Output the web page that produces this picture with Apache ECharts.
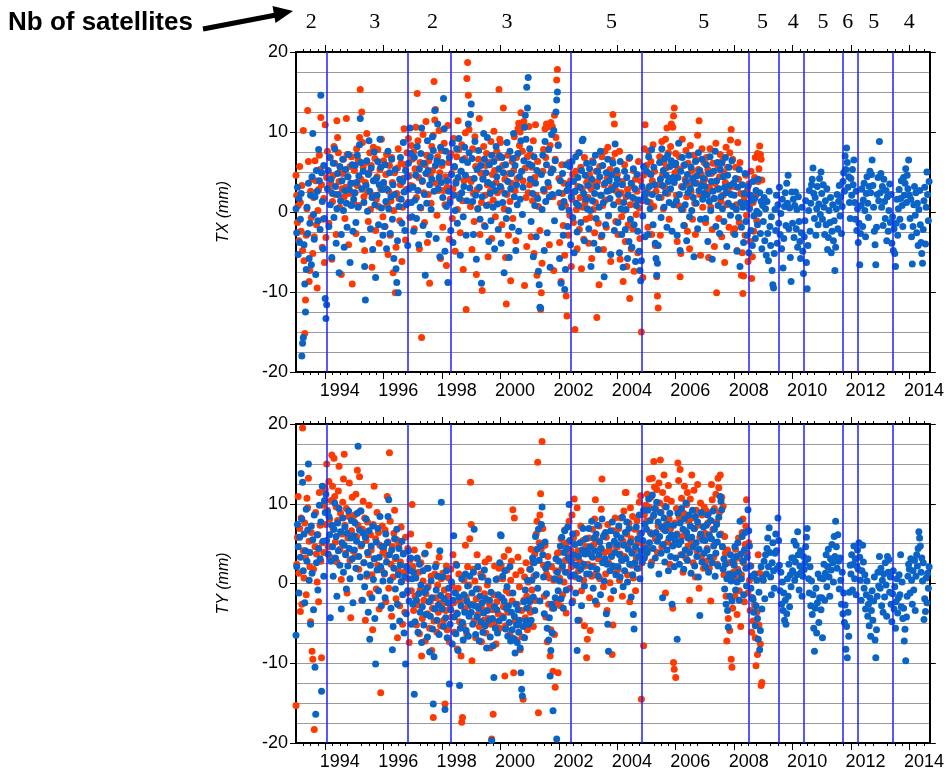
<!DOCTYPE html>
<html><head><meta charset="utf-8">
<script src="https://cdn.jsdelivr.net/npm/echarts@6/dist/echarts.min.js"></script>
<style>html,body{margin:0;padding:0;background:#fff}#c{width:947px;height:775px}</style>
</head><body><div id="c"></div>
<script>
// sampling: each row = one calendar year starting at firstYear, samples every sampleStep years
const firstYear = 1993;
const sampleStep = 0.025;
const changeDates = [1994.06, 1996.83, 1998.30, 2002.41, 2004.83, 2008.51, 2009.52, 2010.40, 2011.73, 2012.24, 2013.43];
const satCounts = ['2','3','2','3','5','5','5','4','5','6','5','4'];
const satLabelYears = [1993.52, 1995.70, 1997.67, 2000.22, 2003.80, 2006.96, 2008.97, 2010.02, 2011.04, 2011.89, 2012.78, 2014.0];
const xLabelYears = [1994, 1996, 1998, 2000, 2002, 2004, 2006, 2008, 2010, 2012, 2014];

const txRed = [
 [4.6,2.1,-1.3,0.8,-3.6,5.7,1.2,-2.4,3.3,-4.8,10.2,-6.1,-15.2,-11.0,-2.9,0.4,12.7,6.3,-8.7,-7.3,2.6,-0.7,4.1,-5.2,1.8,-3.1,6.4,3.9,-1.6,-9.5,0.2,2.8,7.1,5.3,11.8,3.4,-4.4,-0.9,1.7,-6.3],
 [10.9,-3.2,4.3,7.6,5.1,-1.4,2.7,6.8,3.5,-5.9,1.3,4.6,8.2,6.1,2.2,-2.8,11.4,9.3,7.4,3.8,0.6,5.4,-7.8,2.9,4.8,6.6,1.9,-0.8,3.1,11.7,7.2,4.4,-4.1,2.3,5.7,0.9,6.9,-9.0,3.6,1.1],
 [5.2,2.4,-2.7,7.9,3.3,6.5,0.8,9.3,15.3,4.1,12.5,8.7,5.6,1.9,-4.8,3.7,6.2,9.8,2.5,-1.2,4.9,7.4,0.3,5.8,-6.9,2.1,8.1,3.9,6.7,-2.3,1.6,4.4,7.8,0.7,-3.9,5.3,2.9,9.1,3.2,-0.6],
 [6.4,3.1,-1.8,4.7,7.2,0.9,-5.3,2.6,5.8,-2.9,1.4,6.8,3.7,-7.6,0.2,4.9,-10.1,-4.4,2.3,5.5,7.9,1.7,-1.1,3.4,6.1,-6.2,0.6,4.2,10.4,5.9,-3.5,2.8,7.4,1.2,9.2,4.5,-0.7,3.3,8.3,6.6],
 [3.2,7.5,-2.1,5.4,10.6,1.8,14.8,8.9,4.3,-4.6,6.2,0.5,-15.7,3.8,9.7,2.4,-1.3,5.9,11.3,7.1,-3.8,2.2,6.4,-8.9,4.6,1.1,8.2,5.2,9.6,16.3,11.5,12.8,3.6,-0.4,6.9,2.7,10.2,4.9,-5.8,7.7],
 [5.8,-1.9,2.7,8.6,0.9,4.4,-6.7,3.1,10.8,6.2,-3.4,1.6,7.3,4.8,-0.8,2.9,9.2,5.6,-4.9,3.8,6.9,0.3,11.4,7.8,2.2,-2.6,5.1,8.4,1.4,-7.2,3.9,6.7,9.9,-12.2,16.7,18.7,14.6,10.3,4.1,0.7],
 [3.8,-4.7,7.9,2.3,-1.2,9.4,5.7,-7.8,2.8,0.4,6.6,11.7,-2.8,4.9,1.2,-9.8,4.3,8.2,-1.7,2.1,5.8,7.3,3.4,-5.6,0.9,6.2,2.6,8.8,-3.3,4.7,1.5,10.1,5.2,-0.6,3.7,7.6,2.4,6.8,15.3,9.1],
 [8.7,2.9,-1.6,5.8,13.0,0.4,4.1,-5.7,-11.5,2.2,7.1,-2.9,4.8,1.3,-8.6,3.6,6.3,-0.8,5.2,9.4,2.7,-3.6,6.8,4.2,10.4,11.1,8.3,10.0,12.4,10.8,7.6,3.9,11.3,-9.2,5.5,1.8,-4.3,6.9,2.4,10.7],
 [3.4,7.2,-3.1,5.6,1.4,8.9,-5.2,4.3,10.9,2.1,-7.9,6.3,0.7,4.9,-2.3,-12.2,-10.1,-6.4,5.1,7.8,2.6,10.4,6.8,11.0,10.6,10.9,3.2,-4.1,8.3,11.2,5.4,10.7,1.9,-7.3,12.1,6.6,9.3,16.5,17.8,8.4],
 [4.2,-3.8,1.1,-8.7,5.9,2.3,-1.7,3.6,-5.4,0.8,-10.5,-13.0,2.7,-2.9,6.2,-0.4,3.9,-6.8,1.6,4.7,-1.3,2.5,-14.7,5.1,0.3,-4.6,3.2,7.4,-2.2,1.8,5.6,-7.1,2.9,0.6,-3.4,6.8,1.2,-0.9,3.7,4.4],
 [1.8,-3.9,4.6,-0.7,2.9,-5.8,6.4,0.3,3.5,-2.6,1.2,5.1,-13.2,3.8,-1.4,-9.1,5.7,2.1,-3.1,6.9,0.8,-4.7,3.4,7.6,1.5,-1.9,4.2,8.1,-0.5,2.7,5.3,-6.2,3.1,6.5,12.2,4.8,11.0,7.3,-1.2,2.6],
 [4.7,-2.8,1.3,7.6,-5.9,2.4,-0.6,3.8,-8.7,0.2,5.9,-3.7,1.9,-6.8,2.8,-1.6,6.7,-10.8,0.9,-4.6,3.3,-2.1,5.2,-7.4,1.6,4.1,-0.3,2.6,-5.1,6.3,0.5,-3.3,3.9,-15.0,1.4,-8.2,4.6,7.9,10.9,2.2],
 [5.8,2.7,-1.9,7.6,4.8,1.2,6.3,-2.8,3.9,8.4,0.7,5.1,-4.2,2.6,-8.1,-10.5,-12.0,3.4,6.9,-2.9,1.8,8.8,4.6,0.4,6.2,3.1,9.1,5.5,10.5,2.3,7.4,-0.9,4.2,8.2,11.0,6.1,10.6,12.0,13.0,4.9],
 [7.3,2.1,-3.7,5.4,0.8,6.9,-8.1,-5.2,3.2,9.1,0.3,5.8,-1.7,4.1,7.7,1.9,-2.4,6.1,3.4,-4.6,8.3,2.6,5.2,-0.9,4.3,7.1,1.1,-2.8,6.5,3.6,9.6,5.3,11.4,2.2,-5.4,4.7,7.9,0.6,3.8,6.2],
 [4.1,-1.3,6.8,2.4,5.3,-5.7,3.1,7.9,0.6,4.8,-2.2,6.1,1.7,-4.3,3.6,8.6,-10.1,2.9,5.7,-0.8,4.4,7.2,1.3,-3.1,6.4,2.1,4.9,-6.3,3.7,8.1,0.9,5.6,2.8,-1.9,7.4,9.0,10.3,3.3,6.6,-2.6],
 [3.2,-2.1,5.6,0.9,-4.8,8.7,4.1,-1.3,6.2,2.3,-7.9,-5.1,-10.2,-8.0,1.8,-2.9,4.6,-0.4,2.7,-6.2,3.5,0.6,-3.7,5.1,-8.3,-5.6,1.2,-2.4,4.3,6.8,2.1,-1.1,7.3,3.8,5.4,8.25,7.2,6.6,4.0]
];
const txBlue = [
 [0.4,-2.6,3.1,-5.3,1.7,-3.8,-0.9,2.3,-18.0,-16.4,-15.7,-4.1,-9.0,-12.5,-7.2,0.6,-2.7,3.6,-5.8,-1.4,2.1,-6.6,4.4,9.8,-0.3,-3.4,1.9,-7.8,5.2,2.6,-1.1,7.8,3.9,-2.2,14.6,4.9,1.3,-4.6,5.8,-0.8],
 [-10.8,-13.3,-11.6,2.9,5.2,-1.8,6.8,0.9,4.1,-5.7,2.3,6.1,-0.7,7.9,3.2,-3.9,0.4,4.8,2.2,-7.6,5.7,1.4,-2.8,3.9,6.6,0.2,-4.4,2.7,5.3,1.1,-1.9,4.4,7.2,2.8,-6.3,3.6,0.8,5.9,-2.4,1.6],
 [2.4,5.8,-1.3,3.7,7.1,0.6,4.5,8.4,11.7,6.2,2.9,-3.4,5.1,1.2,-6.8,-11.0,3.3,6.4,0.1,4.7,8.9,2.6,-2.1,5.5,1.8,-4.7,3.9,7.5,0.9,-8.2,4.2,2.1,6.3,-1.6,3.4,9.1,5.6,0.5,2.8,-2.9],
 [3.7,-1.8,5.9,1.3,-4.6,2.8,7.6,0.4,4.9,-2.7,1.9,6.6,-0.9,3.4,-5.8,2.2,5.3,-7.1,-8.8,-3.6,-10.1,0.7,4.1,6.8,1.6,-1.4,3.8,8.7,2.5,-2.3,5.2,0.9,4.4,-4.2,6.1,2.9,10.5,7.3,1.2,-0.6],
 [3.1,-2.4,6.8,1.5,4.6,-0.8,8.2,2.7,-4.1,5.4,0.6,7.3,10.5,3.9,-1.7,6.1,2.2,-7.9,4.8,1.1,8.9,5.2,-2.8,3.4,6.9,0.3,4.1,9.4,7.7,2.6,12.7,5.8,-3.3,6.4,11.0,2.9,4.3,-5.6,8.1,3.7],
 [6.2,1.8,14.2,10.4,-4.9,7.6,0.7,3.9,-8.8,2.6,6.8,1.2,-2.3,4.7,8.6,-3.8,2.1,5.7,0.2,3.6,7.9,-1.4,4.3,9.2,1.7,-5.4,5.1,2.4,6.5,-0.6,3.2,8.1,4.6,-2.9,1.4,6.2,11.0,7.4,3.0,12.2],
 [13.5,6.7,1.3,-2.8,4.2,8.8,2.1,-5.9,5.3,0.4,7.7,3.1,-0.9,5.8,-8.9,1.9,4.1,9.8,6.6,-1.8,4.9,0.8,9.3,3.7,-3.7,5.9,2.3,-1.1,7.1,3.4,0.6,6.3,-4.6,2.7,8.2,4.4,1.0,-2.2,5.4,7.0],
 [3.2,-3.9,6.8,1.2,4.9,-7.6,2.3,5.9,-0.8,8.7,3.8,0.2,-5.7,7.6,2.9,4.8,-1.9,6.7,9.8,1.9,5.8,-4.8,3.4,0.9,7.3,-2.4,4.4,1.6,8.9,5.1,-0.3,3.1,6.4,10.6,12.1,9.1,15.6,13.0,16.8,6.0],
 [7.9,4.1,-1.2,5.8,2.3,-5.6,6.9,0.8,3.6,-3.1,5.2,1.7,-7.4,-9.1,-11.9,-12.0,4.7,0.3,7.1,2.8,-4.8,8.8,1.3,5.9,-2.6,3.7,7.8,1.9,-6.9,4.9,9.7,2.2,5.3,10.2,-1.1,6.4,12.5,14.0,15.0,8.3],
 [2.4,-5.8,3.9,-8.9,0.6,4.8,-2.9,1.3,-9.7,-7.2,5.9,2.7,-1.8,3.4,0.2,5.7,-4.1,1.9,6.3,-0.7,3.8,-5.1,2.6,6.9,1.1,-2.5,4.3,0.8,7.4,3.1,-1.3,5.2,8.9,9.1,2.3,-3.6,4.6,1.6,6.1,0.4],
 [3.3,-2.1,5.4,0.2,-6.8,4.1,1.4,6.2,-3.9,2.3,7.1,-0.8,3.2,5.1,-4.7,0.6,4.4,7.6,2.1,-2.9,5.8,1.2,-8.1,3.6,-1.6,4.9,2.6,6.6,-0.4,3.9,1.7,-5.3,4.6,2.8,6.1,0.9,-2.3,8.5,3.4,5.2],
 [4.1,-1.3,2.2,-5.1,6.3,0.4,-2.8,3.4,-6.9,1.2,5.1,-2.2,0.3,4.3,-5.8,2.1,-3.7,6.8,-0.9,3.6,-4.4,1.8,5.4,-1.6,2.9,-6.2,0.8,4.7,-2.4,1.5,-4.9,-7.3,-8.6,-6.1,3.2,-0.5,5.7,1.9,-3.1,2.4],
 [5.1,1.3,-2.8,6.9,3.2,0.4,4.7,7.8,2.2,-1.6,5.6,3.4,-3.9,-5.8,-7.9,-6.4,-4.2,1.8,6.2,4.1,-0.7,7.9,3.3,5.2,0.6,6.7,2.4,4.6,-1.9,7.1,3.8,1.2,5.7,2.9,6.4,-2.4,4.3,0.9,3.7,5.9],
 [6.1,1.4,-2.9,4.3,8.6,2.2,-4.8,5.1,0.3,6.8,3.1,-1.7,5.9,0.9,3.8,-3.6,4.7,2.4,7.1,-0.6,2.9,5.6,0.2,4.1,1.8,-5.6,3.6,6.3,1.1,4.5,-2.1,7.4,2.7,5.2,-0.9,3.3,6.6,1.6,4.2,2.3],
 [3.2,-0.8,5.9,2.1,-3.7,4.8,1.3,6.9,0.2,3.8,-5.9,2.6,5.1,1.7,7.6,-1.8,3.9,6.2,0.8,2.9,-2.7,5.3,1.9,6.1,0.4,4.4,-1.2,3.1,6.8,2.4,-4.3,4.6,1.1,5.6,3.3,-0.4,2.2,6.4,0.7,3.6],
 [2.1,-2.8,4.2,0.3,-4.9,3.1,-0.7,5.3,-6.8,1.2,-1.9,3.4,0.6,-3.8,2.3,4.8,-1.2,1.1,-2.9,3.2,-5.1,0.4,2.1,-2.3,1.4,-4.2,3.8,-0.5,1.7,-3.3,2.7,0.1,-1.6,4.1,-0.2,2.4,-2.7,1.3,-4.6,0.8],
 [-1.2,1.8,-3.6,0.4,-5.4,1.3,-2.7,-6.1,2.6,-1.8,-4.2,-0.6,-7.3,-9.1,-9.5,-5.2,0.3,-2.3,2.1,-3.9,0.9,-1.4,3.1,-2.8,-0.2,-4.6,1.6,-7.0,-3.3,0.7,2.4,-1.7,3.6,1.1,4.6,-2.1,0.5,-5.7,-8.7,2.5],
 [-1.4,1.6,-3.2,0.8,2.5,-2.1,0.3,-4.4,1.9,-1.2,-3.7,-5.8,-2.6,0.6,-4.9,-7.7,-3.1,-1.1,1.4,-6.3,-9.6,-4.2,0.2,2.7,-2.4,1.1,3.4,4.1,5.5,2.3,-0.8,1.8,-2.9,0.4,3.2,-1.6,1.0,4.2,-0.3,5.0],
 [2.3,-0.9,3.4,0.6,-2.8,1.4,-1.6,2.9,-4.7,-3.2,0.2,-1.3,1.8,-5.1,-2.4,0.9,-3.6,-1.1,-7.3,-4.4,0.4,2.2,-2.1,1.3,3.3,-0.5,1.9,-2.7,0.7,3.8,4.9,2.6,7.0,5.3,8.0,6.2,3.1,4.4,1.2,-0.8],
 [4.2,2.1,5.3,3.4,6.5,1.2,-0.9,2.6,-2.3,0.4,-3.8,-1.4,-6.6,-2.7,0.8,2.9,-1.8,1.5,3.6,0.2,-3.1,2.3,4.4,1.1,-0.7,3.2,5.1,2.4,4.7,6.5,3.3,0.6,-2.4,-4.1,-6.6,-1.9,2.2,4.3,1.4,8.8],
 [2.4,4.8,0.6,3.2,-1.7,4.1,1.3,-0.8,2.7,-3.6,1.9,-2.4,0.2,3.5,-1.3,2.2,-3.9,-0.6,-4.8,-2.1,-5.2,-6.8,-1.4,1.6,-2.9,0.4,2.8,-0.9,1.7,3.9,0.8,-1.8,4.3,2.1,3.6,5.4,1.2,4.6,2.9,6.5],
 [2.1,-0.8,1.6,-3.1,-6.5,-1.8,0.9,3.2,-0.4,2.4,-2.6,1.1,-4.2,0.3,2.7,-1.6,-3.8,-5.2,-6.4,-2.2,1.4,3.1,-4.0,0.6,5.0,2.2,-1.1,3.8]
];
const tyRed = [
 [-15.3,2.4,5.8,10.9,1.3,6.9,-3.5,8.2,-2.6,19.5,4.1,0.7,7.6,3.2,-1.4,10.7,9.5,13.2,5.3,2.1,-4.8,6.4,-8.5,-9.5,1.8,-18.3,4.6,8.9,3.7,0.2,6.1,-2.3,11.4,7.3,2.8,-9.3,5.1,9.8,3.9,12.1],
 [11.8,7.4,15.0,9.2,4.6,12.8,8.1,3.3,10.4,16.1,12.2,6.8,15.7,10.9,5.2,9.6,2.7,7.9,11.6,14.7,4.3,8.8,0.5,6.2,10.2,13.1,16.2,7.3,3.8,9.4,-1.2,5.7,8.4,12.6,2.9,-4.3,6.6,10.8,4.1,7.8],
 [8.6,3.4,11.2,5.9,14.2,7.3,1.8,13.4,9.1,4.7,-2.1,6.8,10.3,2.6,8.2,-4.6,5.4,0.9,7.7,3.6,9.8,-1.3,6.1,4.2,1.1,-5.8,7.4,12.2,3.1,5.6,-0.7,8.9,2.3,6.4,-3.2,4.8,-13.7,1.7,7.2,3.9],
 [4.1,1.2,6.7,-2.3,3.5,10.9,5.2,-0.6,16.4,7.8,2.4,-4.1,4.6,0.8,6.3,9.2,3.1,-1.9,5.5,-6.8,1.6,4.9,-2.8,2.7,7.1,0.3,-5.1,3.8,1.4,-3.6,5.8,2.1,-1.2,4.4,0.6,-7.4,2.9,6.2,-0.9,9.9],
 [2.1,-3.4,4.2,-1.6,0.8,-5.2,3.1,-2.7,1.4,-6.3,-0.8,2.6,-9.1,-4.4,0.3,-2.1,3.7,-7.2,-1.3,1.9,-3.8,-0.4,4.8,-5.6,-2.2,0.9,-8.4,-3.1,-16.8,-4.7,1.2,-1.8,2.4,-6.1,-0.2,-3.6,3.3,-2.4,-5.3,0.6],
 [-2.7,1.3,-4.6,-0.8,-15.1,-3.4,2.2,-5.8,-1.6,0.7,-7.3,-3.1,1.8,-4.2,-0.3,3.6,-2.4,-6.1,-1.1,2.4,-3.7,-8.2,-0.6,1.2,-4.8,-2.2,-9.1,-17.4,-16.8,-5.3,0.4,-3.2,4.8,-1.7,-6.4,2.1,-2.8,-0.2,5.6,12.7],
 [7.4,-9.7,-2.6,1.8,-4.7,0.3,-6.8,-1.9,3.6,-3.9,-0.7,-5.4,-2.8,1.2,-7.3,-3.2,0.8,-4.6,-1.3,2.7,-6.2,-2.1,-0.2,-4.4,3.1,-2.6,-8.1,-5.1,-19.5,-3.3,-16.4,-1.4,2.2,-4.9,-7.6,-2.3,0.6,-3.8,1.9,-5.6],
 [-1.8,2.3,-4.1,0.6,-2.9,3.4,-11.6,-5.3,-0.9,1.7,-3.6,4.2,-1.2,-6.4,0.4,2.8,-2.2,9.25,-11.2,8.2,-4.7,1.1,-7.1,-2.6,3.3,-5.2,-0.4,-8.3,1.6,-3.4,-6.7,-14.5,-2.1,0.8,-4.3,2.6,-1.6,-5.8,0.2,-3.1],
 [1.8,-3.6,4.3,-0.8,2.6,-5.4,0.9,3.7,-2.1,6.2,7.8,15.2,-16.2,5.1,8.6,11.25,4.4,17.8,6.9,2.3,-1.6,4.8,-4.2,1.2,-7.3,3.4,-2.6,0.7,-9.1,-5.8,2.1,-3.1,-11.0,0.4,-6.4,-13.0,1.6,-2.4,3.8,-11.2],
 [3.9,0.7,-2.8,5.6,1.9,-1.4,4.8,0.2,6.7,2.9,-3.7,5.1,1.4,3.6,7.8,-0.6,4.2,2.1,8.6,-2.2,5.7,10.6,3.2,0.8,6.3,9.5,4.1,1.6,-4.6,2.7,7.2,-0.9,3.8,5.4,0.4,-5.3,2.2,4.6,-9.3,-7.0],
 [2.4,5.7,-1.8,-5.9,3.6,0.9,6.8,2.2,4.9,8.1,10.5,1.3,-2.6,5.4,3.1,7.2,0.6,4.4,9.3,13.1,2.8,-0.4,6.1,3.9,1.2,5.8,-3.4,7.4,2.6,4.3,0.1,-1.9,3.7,-8.9,-5.2,6.6,2.1,8.2,4.7,1.5],
 [4.6,1.8,6.9,0.4,3.7,8.2,2.9,-1.6,5.3,9.1,3.4,11.4,11.4,6.2,1.1,4.8,7.6,-2.3,9.5,5.6,2.3,8.4,0.7,4.1,6.8,-0.9,3.2,7.9,5.1,1.9,10.2,6.3,11.0,-14.5,2.6,4.9,-7.8,8.6,3.6,9.8],
 [7.8,11.2,4.3,9.6,13.1,6.4,10.8,2.7,13.2,8.4,15.3,12.1,5.6,9.3,11.8,3.9,7.2,12.6,10.1,15.5,8.9,4.6,11.4,6.8,13.6,9.7,-1.2,7.4,10.6,5.2,12.3,8.1,2.4,6.9,10.3,4.8,-3.1,-9.9,-10.75,7.6],
 [-11.8,9.4,6.2,15.1,12.9,8.3,14.3,3.6,10.7,5.9,1.4,8.8,12.2,6.6,3.2,9.9,11.4,4.7,7.8,-2.1,10.6,5.4,13.6,8.2,2.6,11.7,6.9,0.8,9.2,4.1,12.4,7.3,-0.6,5.8,10.1,3.4,8.6,6.1,1.9,9.6],
 [6.3,2.8,9.1,4.4,7.6,8.8,1.9,5.7,-2.2,12.4,10.5,6.8,3.3,9.4,5.1,11.2,7.7,2.4,13.2,12.0,8.9,13.6,6.2,10.8,4.6,9.7,1.1,5.9,3.8,-1.6,-7.2,4.2,-4.4,2.6,-5.9,0.7,-9.5,-10.5,-3.1,1.4],
 [2.8,-1.6,4.3,0.6,-3.9,1.8,5.7,-0.9,3.2,-5.4,1.1,6.4,8.1,2.6,-2.3,4.9,7.2,10.5,3.8,-1.2,5.1,0.4,-3.4,2.2,-6.1,-1.8,-4.7,0.9,-2.7,-6.8,-10.3,-3.6,-8.9,3.6,-5.2,1.3,-7.6,-12.8,-12.4]
];
const tyBlue = [
 [-6.5,2.1,7.4,4.6,-1.2,5.8,3.3,13.8,8.1,12.7,1.6,6.2,-2.4,4.1,9.3,2.8,6.7,15.0,0.4,3.9,-5.1,7.2,1.3,5.5,-3.3,8.6,-10.5,-16.4,2.6,6.1,-0.8,4.4,9.8,3.1,7.7,-13.5,12.2,5.3,0.9,10.4],
 [8.9,11.2,5.4,9.0,3.7,8.4,6.1,-4.3,2.8,7.3,4.6,0.9,6.8,10.1,3.2,5.9,-1.6,7.6,4.1,9.4,2.3,6.5,-3.2,5.1,8.2,1.4,4.8,7.1,3.6,-0.7,6.3,2.2,9.1,4.4,0.6,5.7,7.9,3.1,-2.4,6.0],
 [4.2,7.6,1.9,5.3,8.8,17.2,3.4,6.7,0.8,9.1,4.9,-2.1,6.3,2.6,-0.4,5.8,8.1,1.2,3.9,-3.6,6.6,-7.0,2.3,4.7,-1.8,7.2,0.5,3.1,-4.4,-10.1,5.2,1.7,6.9,-0.9,3.3,8.4,2.1,-2.8,4.6,0.3],
 [4.6,1.3,-1.8,6.2,2.7,5.1,8.4,10.5,3.6,0.4,-3.1,4.2,-8.3,-5.4,1.9,5.6,-0.7,3.3,6.8,-2.6,1.1,4.4,-4.7,2.3,0.2,5.3,-1.4,3.7,-6.2,0.8,-10.1,-3.8,2.1,-0.9,4.1,-2.2,1.6,3.2,-5.1,0.6],
 [-2.6,1.4,-13.9,-4.8,0.7,-2.1,3.2,-6.1,-1.3,2.4,-3.6,-0.2,-7.4,-2.9,1.6,-5.2,-1.1,3.8,-3.9,-0.6,-6.7,1.9,-2.3,-8.6,-4.1,0.3,-1.8,-5.7,-15.1,-9.2,-3.2,2.1,-0.8,-4.6,0.9,-2.7,-6.4,4.1,-1.5,10.2],
 [-3.2,0.8,-5.4,-1.9,-15.8,-4.3,1.6,-6.8,-2.4,-0.6,-12.6,-5.1,-3.3,0.2,-7.6,-2.1,6.0,-4.2,-1.2,-6.3,2.3,-3.8,-8.4,-1.7,-12.8,-5.6,-2.8,0.6,-4.9,-7.1,-1.4,-3.6,1.2,-5.9,-2.2,-0.3,-6.6,-4.1,0.9,-2.7],
 [-3.6,-1.2,-5.1,1.4,6.8,-2.8,-6.4,-0.7,-4.2,2.1,-3.1,-7.2,-1.6,-4.8,0.8,-2.4,-6.1,-3.7,1.7,-5.3,-1.9,-8.1,-3.4,0.3,-4.6,-2.1,-6.7,-1.1,-19.7,-4.4,-7.8,-11.8,-2.9,-5.6,0.5,-3.3,-6.2,-1.4,-4.7,2.6],
 [6.1,6.0,-1.8,0.9,-4.3,-2.2,1.6,-5.7,-3.1,-0.4,-6.6,-2.8,-4.9,2.1,-7.2,-3.6,-5.8,-1.2,-6.9,-4.1,-8.7,-2.6,-5.2,-7.4,-3.3,-6.1,-4.6,-8.1,-11.2,-13.25,-14.1,-5.4,-2.3,-6.8,-0.8,-4.7,-3.1,0.4,-2.1,-5.1],
 [-2.3,1.8,-4.6,0.4,3.2,-1.7,2.6,-3.4,5.9,1.1,4.3,-0.6,6.8,2.9,-2.2,4.7,7.4,9.6,3.6,0.8,-3.8,5.2,1.9,-1.3,-5.6,2.4,-7.1,-4.3,-11.6,-8.4,-2.6,-6.2,-15.95,-3.1,0.6,-1.8,3.1,-19.5,1.4,-0.9],
 [2.8,0.3,4.7,-1.9,5.8,2.2,-3.1,3.9,6.6,1.4,-0.8,4.4,7.1,3.2,9.9,5.4,0.9,2.7,-2.4,6.2,3.6,1.1,4.9,-1.2,2.3,-8.4,-4.6,3.4,0.6,5.1,1.8,-2.8,4.2,6.9,2.4,-0.3,3.7,5.6,1.2,4.1],
 [3.8,6.9,1.2,4.6,2.1,7.8,3.3,-0.6,5.7,4.1,-2.2,6.2,1.8,7.3,0.9,3.6,5.2,-1.4,4.4,8.1,2.6,5.9,0.3,3.1,6.4,-3.8,2.4,-5.1,-8.5,4.8,1.6,6.6,3.4,7.7,2.2,-0.9,5.3,3.9,1.1,6.1],
 [4.9,2.1,7.2,3.6,0.8,5.7,2.9,8.3,-0.4,4.8,1.6,6.4,3.1,7.7,0.2,4.3,6.9,2.4,5.2,-1.7,3.8,1.1,-3.9,-5.7,2.6,4.6,7.1,1.9,5.6,3.4,8.6,0.6,4.1,6.3,2.7,5.4,9.2,3.2,7.4,4.4],
 [6.8,3.9,9.2,10.6,5.1,7.9,2.3,6.2,11.1,4.4,8.6,9.4,3.2,6.4,10.2,5.3,7.7,1.2,5.9,8.9,3.8,7.1,-1.8,4.9,8.2,2.7,6.6,9.6,4.2,7.4,1.6,5.7,8.8,3.4,6.1,-2.6,4.7,7.3,2.1,5.5],
 [3.2,6.1,-7.0,8.8,4.9,2.4,7.6,5.3,9.4,3.6,6.8,1.8,8.1,4.2,10.1,6.4,2.9,5.7,8.6,3.9,7.2,1.3,5.8,9.2,4.6,6.9,2.2,8.4,5.1,3.4,7.7,0.8,4.3,-4.0,6.2,8.9,2.7,5.5,7.1,3.8],
 [5.4,2.1,7.3,4.2,8.6,1.4,6.1,3.3,7.9,5.6,2.6,9.1,4.7,6.8,0.9,3.8,7.4,5.2,2.2,8.3,6.1,10.9,10.3,9.25,4.6,1.8,3.1,-0.7,2.4,-2.6,0.6,-3.4,-5.5,1.2,-1.6,3.6,0.3,-2.2,2.8,1.1],
 [2.3,4.6,-0.8,3.4,0.2,5.1,1.4,-2.1,7.8,3.7,0.6,5.9,2.8,-1.4,4.2,6.4,1.9,-0.3,3.3,9.25,6.6,4.7,2.2,-0.6,0.9,-1.8,-2.0,-3.6,1.2,-5.3,-2.8,0.4,-4.4,-7.0,-1.1,-8.3,-5.9,2.1,-3.2,0.7],
 [0.4,2.8,-1.9,3.6,1.2,4.4,5.7,2.1,7.0,3.9,0.8,-1.4,2.6,5.1,1.6,-0.6,3.8,6.2,4.1,1.9,8.2,5.4,2.3,-0.9,1.4,-2.6,0.2,-3.4,-1.2,-4.6,-2.1,-5.1,-3.8,0.6,-1.6,2.4,-2.9,1.1,-0.4,3.2],
 [1.6,3.2,5.3,0.4,2.7,4.8,1.1,6.5,3.6,-0.8,2.2,4.1,1.4,-1.6,0.9,3.4,1.75,2.6,4.6,5.8,6.9,3.1,0.6,-1.2,2.1,-2.8,0.3,-3.9,-1.4,-5.6,-8.5,-3.1,-0.6,-6.2,-2.4,1.2,-4.9,-1.8,0.7,-3.3],
 [-1.8,-6.8,0.6,2.4,-2.1,1.3,3.6,-0.4,2.1,4.3,0.8,-1.6,3.1,1.7,4.9,2.6,0.2,5.9,3.4,7.8,4.6,1.9,6.1,2.8,-0.7,3.2,0.4,-2.6,1.4,-3.8,-1.2,-4.9,-2.7,-8.25,-5.4,-9.3,-3.6,-6.6,-1.1,2.3],
 [1.2,3.6,-0.8,2.4,4.7,0.6,3.1,-1.4,2.2,4.2,1.8,5.1,3.3,0.4,-2.1,1.6,4.8,2.7,-0.6,1.1,-3.2,-1.4,0.3,-4.1,-2.6,-5.3,-1.8,-6.6,-3.4,-0.9,-4.6,-2.2,0.8,-7.1,-9.3,-5.8,-1.6,1.4,-0.3,3.4],
 [-0.6,1.9,-2.8,0.4,-3.6,1.2,-1.7,2.6,-0.2,-4.1,3.4,1.4,3.0,-1.1,0.8,-2.6,-4.8,-1.3,1.6,-3.2,-0.4,-5.6,-2.3,0.6,-3.7,-1.8,1.1,-1.4,3.6,-2.9,0.2,-4.4,-3.1,-7.2,-5.75,-9.7,-4.2,-1.6,0.9,2.4],
 [1.8,-1.2,3.1,0.4,-2.6,1.6,-0.8,2.9,-3.4,0.9,3.6,2.2,4.4,6.5,5.7,4.7,1.4,3.2,0.3,2.6,-4.5,-1.9,-3.5,0.7,-2.4,1.3,-0.6,2.1]
];

function toPoints(rows){
  const out = [];
  rows.forEach((row, r) => row.forEach((v, j) => out.push([firstYear + r + j * sampleStep, v])));
  return out;
}

const RED = '#ff3a00', BLUE = '#0a64c8', LINEBLUE = '#2020ff';
const chart = echarts.init(document.getElementById('c'), null, {renderer: 'canvas'});

function xAx(g, pos) {
  return {
    gridIndex: g, type: 'value', position: pos, min: 1993, max: 2014.7, interval: 1,
    axisLine: {show: true, onZero: false, lineStyle: {color: '#000', width: 2}},
    axisTick: {show: true, inside: false, length: 7, lineStyle: {color: '#000', width: 1}, customValues: xLabelYears},
    minorTick: {show: true, splitNumber: 4, length: 3, lineStyle: {color: '#000', width: 1}},
    axisLabel: {show: pos === 'bottom', customValues: xLabelYears.map(y => y + 0.5),
      formatter: v => String(Math.floor(v)), color: '#000', fontSize: 18, fontFamily: 'Liberation Sans', margin: 10},
    splitLine: {show: false}, minorSplitLine: {show: false}
  };
}
function yAx(g, pos, name) {
  const left = pos === 'left';
  return {
    gridIndex: g, type: 'value', position: pos, min: -20, max: 20, interval: 10,
    name: left ? name : '', nameLocation: 'middle', nameGap: 64,
    nameTextStyle: {fontStyle: 'italic', fontSize: 16, color: '#000', fontFamily: 'Liberation Sans'},
    axisLine: {show: true, onZero: false, lineStyle: {color: '#000', width: 2}},
    axisTick: {show: true, inside: false, length: 6, lineStyle: {color: '#000', width: 1}},
    axisLabel: {show: left, color: '#000', fontSize: 18, fontFamily: 'Liberation Sans', margin: 8},
    splitLine: {show: left, lineStyle: {color: '#9a9a9a', width: 1.2}},
    minorTick: {show: false, splitNumber: 4},
    minorSplitLine: {show: left, lineStyle: {color: '#9a9a9a', width: 1.2}}
  };
}
function sc(name, data, color, xi, yi, withLines) {
  const s = {
    name, type: 'scatter', xAxisIndex: xi, yAxisIndex: yi, data: toPoints(data),
    symbol: 'circle', symbolSize: 7, itemStyle: {color: color, opacity: 1}, clip: true,
    z: withLines ? 3 : 2, silent: true
  };
  if (withLines) {
    s.markLine = {silent: true, symbol: 'none', label: {show: false}, animation: false,
      lineStyle: {color: LINEBLUE, width: 1.5, type: 'solid'},
      data: changeDates.map(d => ({xAxis: d}))};
  }
  return s;
}

chart.setOption({
  animation: false,
  backgroundColor: '#fff',
  grid: [
    {left: 296, top: 52, width: 637, height: 320},
    {left: 296, top: 424, width: 637, height: 319}
  ],
  xAxis: [xAx(0, 'bottom'), xAx(0, 'top'), xAx(1, 'bottom'), xAx(1, 'top')],
  yAxis: [yAx(0, 'left', 'TX (mm)'), yAx(0, 'right', ''), yAx(1, 'left', 'TY (mm)'), yAx(1, 'right', '')],
  series: [
    sc('TX red', txRed, RED, 0, 0, false),
    sc('TX blue', txBlue, BLUE, 0, 0, true),
    sc('TY red', tyRed, RED, 2, 2, false),
    sc('TY blue', tyBlue, BLUE, 2, 2, true)
  ]
});

const gfx = [
  {type: 'text', x: 8, y: 23, style: {text: 'Nb of satellites', font: 'bold 26px "Liberation Sans"', fill: '#000',
    textVerticalAlign: 'middle', verticalAlign: 'middle'}},
  {type: 'line', shape: {x1: 203, y1: 29, x2: 276, y2: 15}, style: {stroke: '#000', lineWidth: 5}},
  {type: 'polygon', shape: {points: [[293, 11], [275.5, 23], [272.5, 6]]}, style: {fill: '#000'}}
];
satCounts.forEach((t, i) => {
  const px = chart.convertToPixel({xAxisIndex: 0}, satLabelYears[i]);
  gfx.push({type: 'text', x: px, y: 22, style: {text: t, font: '22px "Liberation Serif"', fill: '#000',
    textAlign: 'center', align: 'center', textVerticalAlign: 'middle', verticalAlign: 'middle'}});
});
chart.setOption({graphic: gfx});
</script>
</body></html>
